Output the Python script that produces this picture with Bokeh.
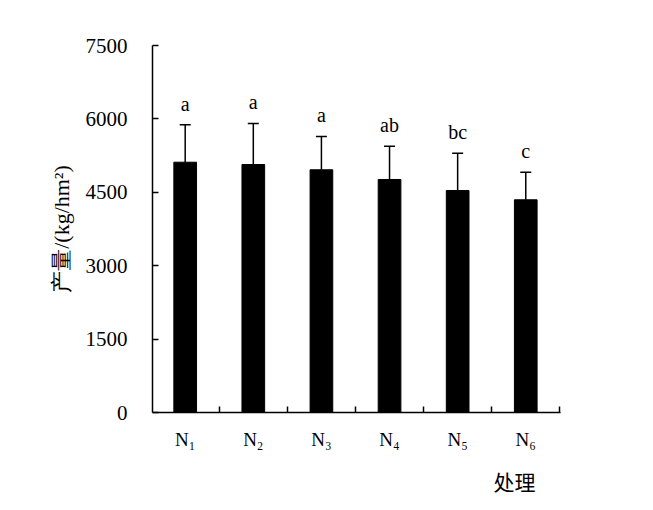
import numpy as np
from bokeh.plotting import figure
from bokeh.models import (Range1d, FixedTicker, Whisker, TeeHead, ColumnDataSource, Title)
from bokeh.core.properties import value
from bokeh.embed import file_html
from bokeh.resources import INLINE

# data
categories = ["N₁", "N₂", "N₃", "N₄", "N₅", "N₆"]
yield_mean = [5115, 5068, 4960, 4762, 4537, 4347]
yield_sd = [765, 838, 681, 681, 763, 564]
sig_letters = ["a", "a", "a", "ab", "bc", "c"]
y_ticks = [0, 1500, 3000, 4500, 6000, 7500]

SERIF = "Liberation Serif"

xpos = np.arange(len(categories)) + 0.5
upper = np.array(yield_mean) + np.array(yield_sd)
src = ColumnDataSource(dict(x=xpos, mean=yield_mean, upper=upper,
                            lab=sig_letters))

p = figure(frame_width=408, frame_height=367, min_border_left=152,
           min_border_top=45, min_border_bottom=50, min_border_right=80,
           x_range=Range1d(0.02, 6.01), y_range=Range1d(0, 7500),
           output_backend="svg", toolbar_location=None)
p.outline_line_color = None
p.grid.grid_line_color = None
p.background_fill_color = "white"
p.border_fill_color = "white"

p.vbar(x="x", top="mean", bottom=0, width=0.333, source=src,
       fill_color="black", line_color="black")

w = Whisker(base="x", lower="mean", upper="upper", source=src,
            line_color="black", line_width=1.5,
            upper_head=TeeHead(size=11, line_color="black", line_width=1.5),
            lower_head=None)
p.add_layout(w)

p.text(x="x", y="upper", text="lab", source=src, text_align="center",
       text_baseline="bottom", y_offset=-10, text_font=value(SERIF),
       text_font_size="20px", text_color="black")

# y axis
ya = p.yaxis[0]
ya.ticker = FixedTicker(ticks=y_ticks)
ya.major_tick_in = 6
ya.major_tick_out = 0
ya.minor_tick_line_color = None
ya.axis_line_width = 1.5
ya.major_tick_line_width = 1.5
ya.axis_line_color = "black"
ya.major_tick_line_color = "black"
ya.major_label_standoff = 25
ya.major_label_text_font = SERIF
ya.major_label_text_font_size = "21px"
ya.major_label_text_color = "black"
ya.axis_label = "产量/(kg/hm²)"
ya.axis_label_text_font = SERIF
ya.axis_label_text_font_size = "22px"
ya.axis_label_text_font_style = "normal"
ya.axis_label_text_color = "black"
ya.axis_label_standoff = 9

# x axis
xa = p.xaxis[0]
xa.ticker = FixedTicker(ticks=list(xpos), minor_ticks=list(range(1, len(categories) + 1)))
xa.major_label_overrides = {float(v): c for v, c in zip(xpos, categories)}
xa.major_tick_in = 0
xa.major_tick_out = 0
xa.minor_tick_in = 6
xa.minor_tick_out = 0
xa.minor_tick_line_width = 1.5
xa.minor_tick_line_color = "black"
xa.axis_line_width = 1.5
xa.axis_line_color = "black"
xa.major_label_standoff = 16
xa.major_label_text_font = SERIF
xa.major_label_text_font_size = "19px"
xa.major_label_text_color = "black"

t = Title(text="处理", align="right", offset=25, standoff=22,
          text_font="Noto Sans CJK SC", text_font_size="21px",
          text_font_style="normal", text_color="black")
p.add_layout(t, "below")

open("out.html", "w").write(file_html(p, INLINE))
